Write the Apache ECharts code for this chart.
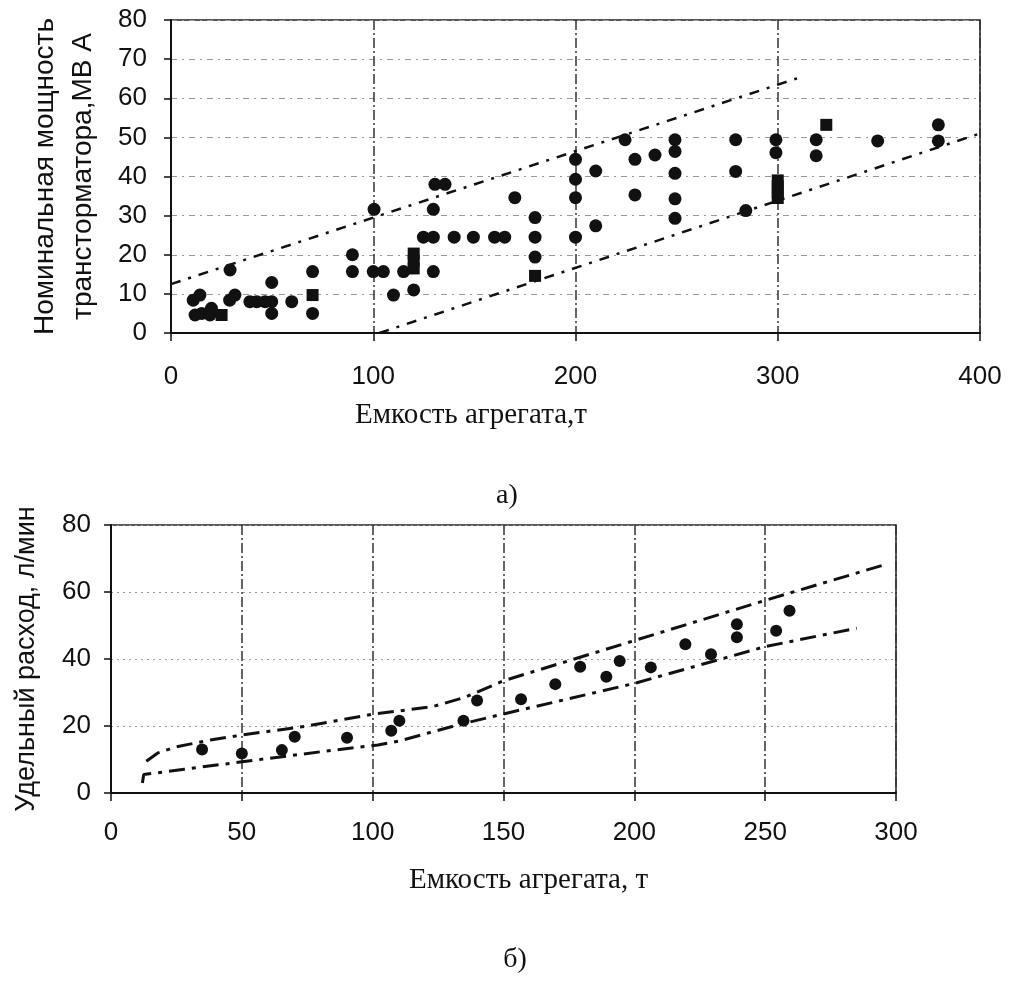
<!DOCTYPE html>
<html><head><meta charset="utf-8">
<script src="https://cdn.jsdelivr.net/npm/echarts@6/dist/echarts.min.js"></script>
<style>html,body{margin:0;padding:0;background:#fff}#c{width:1011px;height:984px}</style>
</head><body><div id="c"></div>
<script>
// ---- Chart а) : transformer rated power vs furnace capacity ----
const aXTitle = 'Емкость агрегата,т';
const aYTitle = 'Номинальная мощность\nтрансторматора,МВ А';
const aCircles = [
  [11,8.4],[14.3,9.7],[11.9,4.6],[15.2,5],[20,6.3],[19.3,4.6],[29.2,16.1],[29,8.4],[31.6,9.7],
  [39,8],[42.4,8],[46.5,8],[49.8,8],[49.8,12.9],[49.8,5],[59.7,8],[70,15.7],[70,5],
  [89.7,20],[89.7,15.7],[100.4,31.6],[100,15.7],[105,15.7],[110,9.7],[115,15.7],[120,11],
  [129.7,15.7],[124.8,24.5],[129.7,24.5],[140,24.5],[149.5,24.5],[160,24.5],[165,24.5],
  [129.7,31.6],[130.5,38],[135.5,38],[170,34.6],[180,29.5],[180,24.5],[180,19.4],
  [200,44.4],[200,39.3],[200,34.6],[200,24.5],[210,41.4],[210,27.4],[224.5,49.4],
  [229.4,44.4],[229.4,35.3],[239.3,45.5],[249.2,49.4],[249.2,46.4],[249.2,40.8],[249.2,34.3],
  [249.2,29.3],[279.2,49.4],[279.2,41.3],[284.2,31.3],[299.1,49.4],[299.1,46.1],
  [319,49.4],[319,45.3],[349.4,49.1],[379.4,53.2],[379.4,49.1]
];
const aSquares = [
  [25,4.6],[70,9.7],[120,16.5],[120,18.5],[120,20.3],[180,14.6],
  [300,34.5],[300,36],[300,37.5],[300,39],[324,53.2]
];
const aUpperBound = [[0,12.5],[312,65.5]];
const aLowerBound = [[103,0],[400,51]];

// ---- Chart б) : specific flow vs furnace capacity ----
const bXTitle = 'Емкость агрегата, т';
const bYTitle = 'Удельный расход, л/мин';
const bPoints = [
  [34.8,13],[50,11.8],[65.3,12.8],[70.2,16.8],[90.2,16.5],[107.1,18.6],[110.2,21.6],
  [134.7,21.6],[139.9,27.6],[156.7,28],[169.8,32.5],[179.3,37.7],[189.3,34.7],[194.4,39.4],
  [206.3,37.5],[219.5,44.4],[229.3,41.4],[239.2,50.4],[239.2,46.5],[254.2,48.4],[259.3,54.4]
];
const bUpperBound = [[13.5,9.5],[18,12],[25,13.8],[38,15.8],[50,17.3],[75,20],[100,23.5],
  [123,25.8],[135,28.5],[150,33.5],[200,45.5],[250,57.5],[295,68]];
const bLowerBound = [[12,3],[12.5,5.5],[28,7.1],[50,9.3],[85,12.8],[102,14.3],[110,15.5],
  [123,18.3],[135,20.8],[150,23.6],[200,32.7],[250,43.7],[285,49.2]];

const SANS = 'Liberation Sans, Arial, sans-serif';
const SERIF = 'Liberation Serif, Times New Roman, serif';
const INK = '#111';

function boundLine(data, xi, dash, w) {
  return { type: 'line', xAxisIndex: xi, yAxisIndex: xi, data: data, symbol: 'none',
    silent: true, lineStyle: { color: INK, width: w, type: dash }, z: 3 };
}

const chart = echarts.init(document.getElementById('c'), null, { renderer: 'canvas' });
chart.setOption({
  animation: false,
  backgroundColor: '#fff',
  title: [
    { text: 'а)', left: 507, top: 482, textAlign: 'center', padding: 0,
      textStyle: { fontFamily: SERIF, fontSize: 28, fontWeight: 'normal', color: INK } },
    { text: 'б)', left: 515, top: 946, textAlign: 'center', padding: 0,
      textStyle: { fontFamily: SERIF, fontSize: 28, fontWeight: 'normal', color: INK } }
  ],
  grid: [
    { left: 171, top: 20, width: 809, height: 313, show: true, borderColor: '#222', borderWidth: 1.5 },
    { left: 111, top: 525, width: 785, height: 268, show: true, borderColor: '#222', borderWidth: 1.5 }
  ],
  xAxis: [
    { gridIndex: 0, type: 'value', min: 0, max: 400, interval: 100,
      name: aXTitle, nameLocation: 'middle', nameGap: 68,
      nameTextStyle: { fontFamily: SERIF, fontSize: 29, color: INK, padding: [0, 209, 0, 0] },
      axisLine: { show: true, lineStyle: { color: INK, width: 2 } },
      axisTick: { show: true, length: 8, lineStyle: { color: INK, width: 1.5 } },
      axisLabel: { margin: 31, fontFamily: SANS, fontSize: 26, color: INK },
      splitLine: { show: true, lineStyle: { color: '#333', width: 1.5, type: [10, 3, 2, 3] } } },
    { gridIndex: 1, type: 'value', min: 0, max: 300, interval: 50,
      name: bXTitle, nameLocation: 'middle', nameGap: 73,
      nameTextStyle: { fontFamily: SERIF, fontSize: 29, color: INK, padding: [0, 0, 0, 50] },
      axisLine: { show: true, lineStyle: { color: INK, width: 2 } },
      axisTick: { show: true, length: 8, lineStyle: { color: INK, width: 1.5 } },
      axisLabel: { margin: 27, fontFamily: SANS, fontSize: 26, color: INK },
      splitLine: { show: true, lineStyle: { color: '#333', width: 1.5, type: [10, 3, 2, 3] } } }
  ],
  yAxis: [
    { gridIndex: 0, type: 'value', min: 0, max: 80, interval: 10,
      name: aYTitle, nameLocation: 'middle', nameGap: 69, nameRotate: 90,
      nameTextStyle: { fontFamily: SANS, fontSize: 28, color: INK, lineHeight: 38 },
      axisLine: { show: true, lineStyle: { color: INK, width: 2 } },
      axisTick: { show: true, length: 7, lineStyle: { color: INK, width: 1.5 } },
      axisLabel: { margin: 24, fontFamily: SANS, fontSize: 26, color: INK },
      splitLine: { show: true, lineStyle: { color: '#999', width: 1, type: [6, 5, 2, 5] } } },
    { gridIndex: 1, type: 'value', min: 0, max: 80, interval: 20,
      name: bYTitle, nameLocation: 'middle', nameGap: 71, nameRotate: 90,
      nameTextStyle: { fontFamily: SANS, fontSize: 27, color: INK },
      axisLine: { show: true, lineStyle: { color: INK, width: 2 } },
      axisTick: { show: true, length: 7, lineStyle: { color: INK, width: 1.5 } },
      axisLabel: { margin: 20, fontFamily: SANS, fontSize: 26, color: INK },
      splitLine: { show: true, lineStyle: { color: '#999', width: 1, type: [2, 4] } } }
  ],
  series: [
    boundLine(aUpperBound, 0, [10, 8, 3, 8], 2.5),
    boundLine(aLowerBound, 0, [10, 8, 3, 8], 2.5),
    { type: 'scatter', xAxisIndex: 0, yAxisIndex: 0, data: aCircles, symbol: 'circle',
      symbolSize: 13, itemStyle: { color: INK, opacity: 1 }, z: 4 },
    { type: 'scatter', xAxisIndex: 0, yAxisIndex: 0, data: aSquares, symbol: 'rect',
      symbolSize: 12, itemStyle: { color: INK, opacity: 1 }, z: 4 },
    boundLine(bUpperBound, 1, [16, 7, 4, 7], 3),
    boundLine(bLowerBound, 1, [16, 7, 4, 7], 3),
    { type: 'scatter', xAxisIndex: 1, yAxisIndex: 1, data: bPoints, symbol: 'circle',
      symbolSize: 12, itemStyle: { color: INK, opacity: 1 }, z: 4 }
  ]
});
</script>
</body></html>
